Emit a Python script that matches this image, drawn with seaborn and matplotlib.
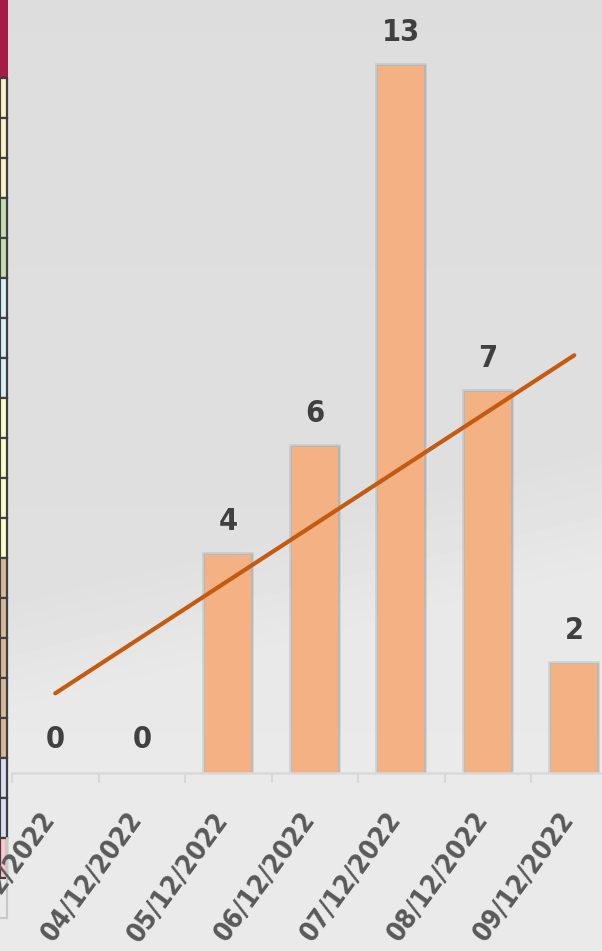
import numpy as np
import matplotlib
matplotlib.use("Agg")
import matplotlib.pyplot as plt
import matplotlib.patheffects as pe
from matplotlib.patches import Rectangle
from matplotlib.transforms import ScaledTranslation
import seaborn as sns

# data
dates = ['03/12/2022', '04/12/2022', '05/12/2022', '06/12/2022',
         '07/12/2022', '08/12/2022', '09/12/2022']
counts = [0, 0, 4, 6, 13, 7, 2]

# spreadsheet cells visible on the left edge
cell_colors = ['#FFF2CC', '#FFF2CC', '#FFF2CC', '#C6E0B4', '#C6E0B4',
               '#D9F0F8', '#D9F0F8', '#D9F0F8', '#FFFFCC', '#FFFFCC',
               '#FFFFCC', '#FFFFCC', '#D9B99C', '#D9B99C', '#D9B99C',
               '#D9B99C', '#D9B99C', '#D9E1F2', '#D9E1F2', '#FFC7CE']

W, H = 602, 951
BAR_COLOR = '#F4B183'
LINE_COLOR = '#C55A11'
FONT = ['DejaVu Sans']

sns.set_theme(style='white')
plt.rcParams['font.family'] = FONT
plt.rcParams['font.stretch'] = 'condensed'

fig = plt.figure(figsize=(W / 100, H / 100), dpi=100)

# ---- background (gray gradient with a light sweep at the bottom) ----
bg = fig.add_axes([0, 0, 1, 1], zorder=-10)
yy, xx = np.mgrid[0:H, 0:W]
base = 221 + 4 * (yy / H)
sweep = 600 - 0.25 * xx
light = np.clip((yy - sweep) / 120, 0, 1) * 9
img = np.clip(base + light, 0, 255) / 255
bg.imshow(img, cmap='gray', vmin=0, vmax=1, extent=(0, W, H, 0), aspect='auto')
bg.set_xlim(0, W)
bg.set_ylim(H, 0)
bg.axis('off')

# left strip of cells
bg.add_patch(Rectangle((0, 0), 8, 77, color='#A51D45', lw=0))
for i, c in enumerate(cell_colors):
    y0 = 78 + 40 * i
    bg.add_patch(Rectangle((0, y0), 7, 40, facecolor=c, edgecolor='#3F3F3F', lw=1.6))
bg.plot([7, 7], [838, 918], color='#C8C8C8', lw=1.5)
bg.plot([0, 7], [918, 918], color='#C8C8C8', lw=1.5)

# ---- chart ----
ax = fig.add_axes([12 / W, (H - 773) / H, 605.5 / W, 773 / H])
ax.patch.set_alpha(0)

sns.barplot(x=dates, y=counts, color=BAR_COLOR, width=0.53, saturation=1,
            linewidth=0, ax=ax, zorder=2)
for p in ax.patches:
    if p.get_height() > 0:
        p.set_path_effects([pe.Stroke(linewidth=4, foreground='#7a7a7a', alpha=0.22),
                            pe.Stroke(linewidth=2, foreground='#7a7a7a', alpha=0.25),
                            pe.Normal()])
    else:
        p.set_visible(False)

sns.regplot(x=np.arange(len(counts)), y=counts, scatter=False, ci=None,
            truncate=True, ax=ax,
            line_kws=dict(color=LINE_COLOR, lw=3, solid_capstyle='round', zorder=3))

for i, v in enumerate(counts):
    ax.annotate(str(v), (i, v), xytext=(0, 18), textcoords='offset points',
                ha='center', va='baseline', fontsize=22, fontweight='bold',
                fontstretch='condensed', color='#404040')

ax.set_xlim(-0.5, len(counts) - 0.5)
ax.set_ylim(0, 773 / 54.4)
ax.set_xlabel('')
ax.set_ylabel('')
ax.set_yticks([])
for s in ['left', 'top', 'right']:
    ax.spines[s].set_visible(False)
ax.spines['bottom'].set_color('#D9D9D9')
ax.spines['bottom'].set_linewidth(1.8)

ax.set_xticks(np.arange(-0.5, len(counts)), minor=True)
ax.tick_params(axis='x', which='minor', length=7, width=1.4, color='#D9D9D9',
               direction='out', bottom=True)
ax.tick_params(axis='x', which='major', length=0, pad=25)
ax.set_xticks(range(len(dates)))
ax.set_xticklabels(dates, rotation=54, ha='right', va='top', fontsize=19.5,
                   fontweight='bold', fontstretch='condensed', color='#595959')
shift = ScaledTranslation(6 / 100, 0, fig.dpi_scale_trans)
for lab in ax.get_xticklabels():
    lab.set_transform(lab.get_transform() + shift)

fig.savefig('out.png', dpi=100)
